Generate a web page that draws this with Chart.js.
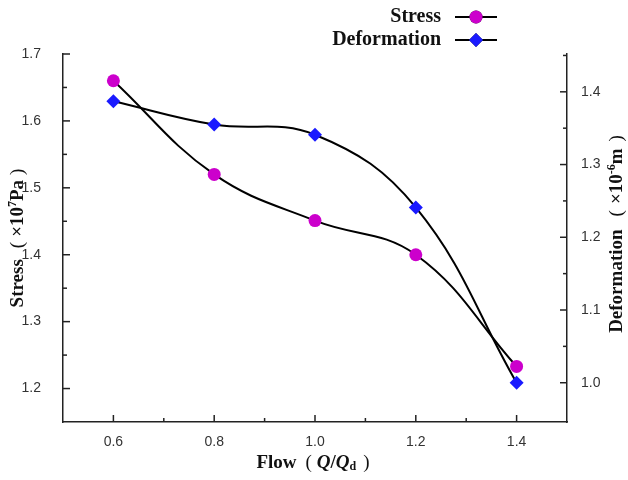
<!DOCTYPE html>
<html>
<head>
<meta charset="utf-8">
<script src="https://cdn.jsdelivr.net/npm/chart.js@4.4.0/dist/chart.umd.min.js"></script>
<style>
  html, body { margin: 0; padding: 0; background: #fff; }
  canvas { display: block; }
</style>
</head>
<body>
<canvas id="chart" width="628" height="480"></canvas>
<script>
// values
const flow = [0.6, 0.8, 1.0, 1.2, 1.4];
const stress = [1.66, 1.52, 1.451, 1.40, 1.233];        // x10^7 Pa
const deformation = [1.387, 1.355, 1.341, 1.241, 1.0];  // x10^-6 m

const xTicks = [0.6, 0.8, 1.0, 1.2, 1.4];
const stressTicks = [1.2, 1.3, 1.4, 1.5, 1.6, 1.7];
const deformTicks = [1.0, 1.1, 1.2, 1.3, 1.4];

const serif = "'Liberation Serif', 'Times New Roman', serif";
const sans = "'Liberation Sans', Arial, sans-serif";

function setTicks(list) {
  return scale => { scale.ticks = list.map(v => ({ value: v })); };
}

// inward major/minor ticks, like the Origin plot
const innerTicks = {
  id: 'innerTicks',
  afterDraw(chart) {
    const ctx = chart.ctx;
    const area = chart.chartArea;
    ctx.save();
    ctx.strokeStyle = '#222';
    ctx.lineWidth = 1.5;
    const minors = list => {
      const out = [];
      for (let i = 0; i < list.length - 1; i++) out.push((list[i] + list[i + 1]) / 2);
      return out;
    };
    const mark = (scale, vals, len, side) => {
      vals.forEach(v => {
        if (v < scale.min - 1e-6 || v > scale.max + 1e-6) return;
        const p = scale.getPixelForValue(v);
        ctx.beginPath();
        if (side === 'bottom') { ctx.moveTo(p, area.bottom); ctx.lineTo(p, area.bottom - len); }
        if (side === 'left') { ctx.moveTo(area.left, p); ctx.lineTo(area.left + len, p); }
        if (side === 'right') { ctx.moveTo(area.right, p); ctx.lineTo(area.right - len, p); }
        ctx.stroke();
      });
    };
    const s = chart.scales;
    mark(s.x, xTicks, 7, 'bottom');
    mark(s.x, minors(xTicks), 4, 'bottom');
    mark(s.y, stressTicks, 7, 'left');
    mark(s.y, minors(stressTicks), 4, 'left');
    mark(s.y1, deformTicks, 7, 'right');
    mark(s.y1, minors(deformTicks).concat([1.45]), 4, 'right');
    ctx.restore();
  }
};

// draw a run of differently styled pieces centred on (0,0)
// pre / post = extra space around a piece (full-width bracket look)
function richText(ctx, parts) {
  let total = 0;
  parts.forEach(p => {
    ctx.font = p.f;
    p.w = ctx.measureText(p.t).width + (p.pre || 0) + (p.post || 0);
    total += p.w;
  });
  let x = -total / 2;
  ctx.textAlign = 'left';
  parts.forEach(p => {
    ctx.font = p.f;
    ctx.fillText(p.t, x + (p.pre || 0), p.dy || 0);
    x += p.w;
  });
}

const B = 'bold 19px ' + serif;
const BI = 'italic bold 19px ' + serif;
const SM = 'bold 12px ' + serif;
const P = '19px ' + serif;

// axis titles and legend drawn by hand (mixed italic / sub- and superscripts)
const decorations = {
  id: 'decorations',
  afterDraw(chart) {
    const ctx = chart.ctx;
    const area = chart.chartArea;
    ctx.save();
    ctx.fillStyle = '#111';
    ctx.textBaseline = 'middle';

    // left title
    ctx.save();
    ctx.translate(18, 238);
    ctx.rotate(-Math.PI / 2);
    richText(ctx, [
      { t: 'Stress', f: B }, { t: '(', f: P, pre: 11, post: 5 }, { t: '×10', f: B },
      { t: '7', f: SM, dy: -5 }, { t: 'Pa', f: B }, { t: ')', f: P, pre: 5 }
    ]);
    ctx.restore();

    // right title
    ctx.save();
    ctx.translate(617, 234);
    ctx.rotate(-Math.PI / 2);
    richText(ctx, [
      { t: 'Deformation', f: B }, { t: '(', f: P, pre: 13, post: 6 }, { t: '×10', f: B },
      { t: '-6', f: SM, dy: -5 }, { t: 'm', f: B }, { t: ')', f: P, pre: 7 }
    ]);
    ctx.restore();

    // x title: Flow（Q/Qd）
    ctx.save();
    ctx.translate(313, 463);
    richText(ctx, [
      { t: 'Flow', f: B }, { t: '(', f: P, pre: 9, post: 5 }, { t: 'Q', f: BI }, { t: '/', f: B },
      { t: 'Q', f: BI }, { t: 'd', f: SM, dy: 4 }, { t: ')', f: P, pre: 7 }
    ]);
    ctx.restore();

    // legend
    const rows = [
      { label: 'Stress', ds: chart.data.datasets[0], y: 17 },
      { label: 'Deformation', ds: chart.data.datasets[1], y: 40 }
    ];
    rows.forEach(r => {
      ctx.font = 'bold 20px ' + serif;
      ctx.textAlign = 'right';
      ctx.fillStyle = '#111';
      ctx.fillText(r.label, 441, r.y);
      ctx.strokeStyle = '#000';
      ctx.lineWidth = 2;
      ctx.beginPath();
      ctx.moveTo(455, r.y);
      ctx.lineTo(497, r.y);
      ctx.stroke();
      Chart.helpers.drawPoint(ctx, {
        pointStyle: r.ds.pointStyle,
        radius: r.ds.pointRadius,
        rotation: 0,
        borderWidth: 0
      }, 476, r.y);
      ctx.fillStyle = r.ds.pointBackgroundColor;
      ctx.fill();
    });
    ctx.restore();
  }
};

new Chart(document.getElementById('chart'), {
  type: 'line',
  data: {
    datasets: [
      {
        label: 'Stress',
        data: flow.map((x, i) => ({ x: x, y: stress[i] })),
        yAxisID: 'y',
        borderColor: '#000',
        borderWidth: 2,
        tension: 0.4,
        pointStyle: 'circle',
        pointRadius: 6.5,
        pointBackgroundColor: '#cc00cc',
        pointBorderWidth: 0
      },
      {
        label: 'Deformation',
        data: flow.map((x, i) => ({ x: x, y: deformation[i] })),
        yAxisID: 'y1',
        borderColor: '#000',
        borderWidth: 2,
        tension: 0.4,
        pointStyle: 'rectRot',
        pointRadius: 7,
        pointBackgroundColor: '#1a1aff',
        pointBorderWidth: 0
      }
    ]
  },
  options: {
    responsive: false,
    devicePixelRatio: 1,
    animation: false,
    layout: { padding: { top: 54, left: 0, right: 0, bottom: 0 } },
    plugins: {
      legend: { display: false },
      tooltip: { enabled: false }
    },
    scales: {
      x: {
        type: 'linear',
        position: 'bottom',
        min: 0.5,
        max: 1.5,
        afterBuildTicks: setTicks(xTicks),
        afterFit: s => { s.height = 58; },
        grid: { display: false },
        border: { display: true, color: '#222', width: 1.5 },
        ticks: {
          padding: 4,
          color: '#333',
          font: { family: sans, size: 14 },
          callback: v => v.toFixed(1)
        }
      },
      y: {
        type: 'linear',
        position: 'left',
        min: 1.15,
        max: 1.70,
        afterBuildTicks: setTicks(stressTicks),
        afterFit: s => { s.width = 63; },
        grid: { display: false },
        border: { display: true, color: '#222', width: 1.5 },
        ticks: {
          padding: 14,
          color: '#333',
          font: { family: sans, size: 14 },
          callback: v => v.toFixed(1)
        }
      },
      y1: {
        type: 'linear',
        position: 'right',
        min: 0.946,
        max: 1.452,
        afterBuildTicks: setTicks(deformTicks),
        afterFit: s => { s.width = 61; },
        grid: { display: false },
        border: { display: true, color: '#222', width: 1.5 },
        ticks: {
          padding: 6,
          color: '#333',
          font: { family: sans, size: 14 },
          callback: v => v.toFixed(1)
        }
      }
    }
  },
  plugins: [innerTicks, decorations]
});
</script>
</body>
</html>
